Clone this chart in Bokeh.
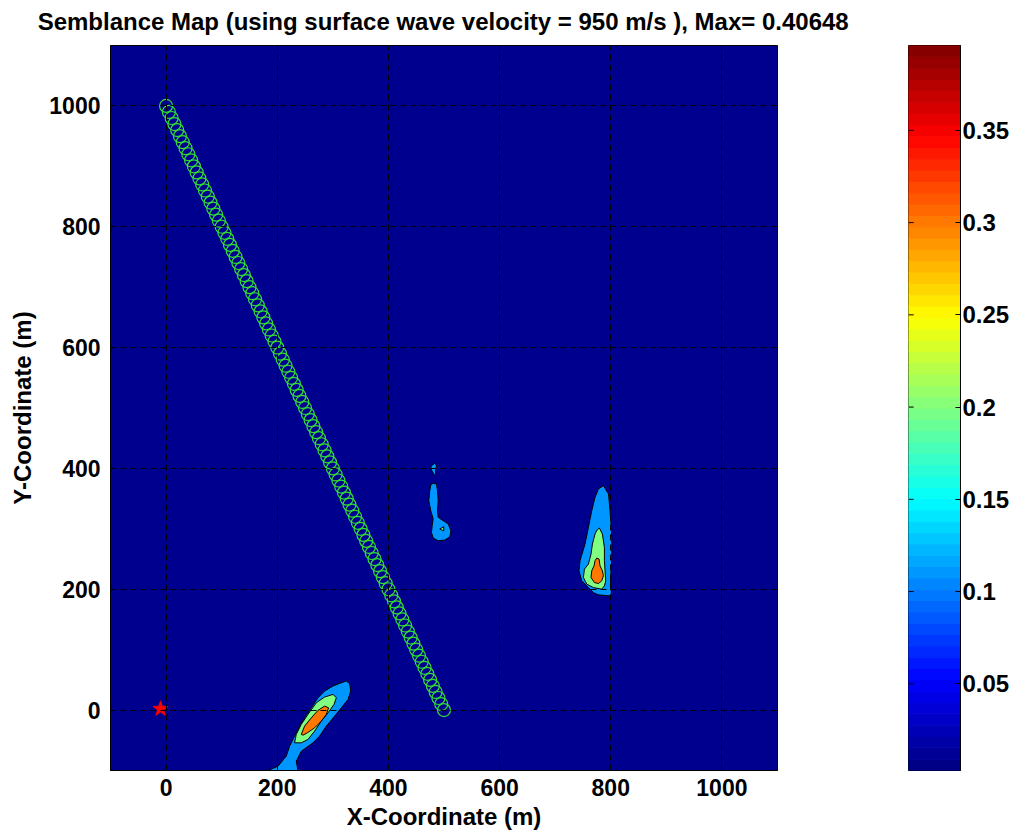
from bokeh.plotting import figure
from bokeh.models import Range1d, FixedTicker, ColumnDataSource
from bokeh.layouts import row, column
from bokeh.core.properties import value
from bokeh.embed import file_html
from bokeh.resources import INLINE

# ---------------- data ----------------
title_text = "Semblance Map (using  surface wave velocity = 950 m/s ), Max= 0.40648"
x_ticks = [0, 200, 400, 600, 800, 1000]
y_ticks = [0, 200, 400, 600, 800, 1000]
cbar_ticks = [0.05, 0.1, 0.15, 0.2, 0.25, 0.3, 0.35]
cbar_low = 0.003
cbar_high = 0.396

# receiver line (x, y in m)
rec_x = [0, 5, 10, 15, 20, 25, 30, 35, 40, 45, 50, 55, 60, 65, 70, 75, 80, 85, 90, 95,
         100, 105, 110, 115, 120, 125, 130, 135, 140, 145, 150, 155, 160, 165, 170, 175,
         180, 185, 190, 195, 200, 205, 210, 215, 220, 225, 230, 235, 240, 245, 250, 255,
         260, 265, 270, 275, 280, 285, 290, 295, 300, 305, 310, 315, 320, 325, 330, 335,
         340, 345, 350, 355, 360, 365, 370, 375, 380, 385, 390, 395, 400, 405, 410, 415,
         420, 425, 430, 435, 440, 445, 450, 455, 460, 465, 470, 475, 480, 485, 490, 495, 500]
rec_y = [1000, 990, 980, 970, 960, 950, 940, 930, 920, 910, 900, 890, 880, 870, 860, 850,
         840, 830, 820, 810, 800, 790, 780, 770, 760, 750, 740, 730, 720, 710, 700, 690,
         680, 670, 660, 650, 640, 630, 620, 610, 600, 590, 580, 570, 560, 550, 540, 530,
         520, 510, 500, 490, 480, 470, 460, 450, 440, 430, 420, 410, 400, 390, 380, 370,
         360, 350, 340, 330, 320, 310, 300, 290, 280, 270, 260, 250, 240, 230, 220, 210,
         200, 190, 180, 170, 160, 150, 140, 130, 120, 110, 100, 90, 80, 70, 60, 50, 40, 30,
         20, 10, 0]

# source position
src_x = [-10]
src_y = [2]

# contour outlines (m)
# band >= 0.1
lvl1_xs = [
    [786.8, 795.9, 798.7, 800.5, 801.8, 801.8, 800.5, 799.5, 801.8, 800.5, 795.9, 777.8,
     768.8, 759.8, 747.7, 742.9, 744.7, 753.7, 759.8, 765.8, 771.7, 777.8],
    [480.5, 486.5, 488.3, 489.5, 488.3, 489.5, 498.6, 507.6, 512.3, 510.5, 501.4, 489.5,
     480.5, 477.5, 478.7, 480.5, 476.2, 472.6, 474.4, 476.2],
    [477.5, 483.4, 486.5, 484.7, 485.2, 482.3, 478.7, 476.2],
    [183.2, 201.3, 216.2, 222.2, 231.2, 240.2, 249.2, 261.3, 273.3, 285.2, 300.4, 315.3,
     324.3, 330.3, 332.1, 327.4, 315.3, 303.2, 288.3, 276.2, 264.3, 243.2, 234.2, 237.3],
]
lvl1_ys = [
    [371.5, 357.7, 330.0, 308.5, 285.7, 252.6, 230.5, 205.6, 200.2, 190.7, 189.1, 190.7,
     194.5, 202.8, 213.9, 230.5, 247.1, 274.8, 302.3, 330.0, 352.1, 366.0],
    [375.3, 374.3, 363.2, 346.6, 330.0, 318.9, 313.4, 308.0, 296.8, 286.9, 281.4, 280.3,
     284.7, 294.0, 305.1, 316.3, 330.0, 346.6, 363.2, 373.1],
    [404.6, 408.5, 404.6, 396.4, 388.1, 389.7, 395.2, 400.8],
    [-100.0, -92.9, -76.3, -59.7, -43.1, -26.5, -12.8, 3.8, 20.4, 31.5, 39.8, 45.3,
     48.1, 43.6, 31.5, 17.7, 3.8, -10.0, -26.5, -43.1, -54.2, -68.0, -84.6, -100.0],
]
# band >= 0.2
lvl2_xs = [
    [779.6, 785.0, 788.6, 788.6, 789.7, 791.0, 788.6, 783.8, 768.8, 756.8, 750.8, 752.6,
     759.8, 764.5, 767.0, 771.7, 775.3],
    [492.4, 499.6, 499.6],
    [231.2, 234.2, 243.2, 255.3, 270.3, 285.2, 300.4, 306.3, 302.2, 291.4, 279.3, 267.2,
     255.3, 243.2],
]
lvl2_ys = [
    [301.3, 291.4, 269.2, 247.1, 230.5, 213.9, 205.6, 200.2, 202.8, 208.5, 219.4, 233.3,
     241.6, 258.2, 274.8, 291.4, 298.0],
    [299.7, 303.5, 296.8],
    [-54.2, -40.3, -23.7, -7.1, 12.1, 21.6, 26.0, 20.4, 9.5, -4.5, -18.2, -34.8, -48.6, -54.2],
]
# band >= 0.3
lvl3_xs = [
    [774.8, 779.0, 780.7, 785.0, 786.8, 783.8, 777.8, 770.6, 764.5, 765.8, 770.0, 771.7],
    [243.2, 249.2, 261.3, 273.3, 285.2, 292.4, 288.3, 279.3, 267.2, 254.1, 246.3],
]
lvl3_ys = [
    [251.6, 249.9, 238.8, 230.5, 222.2, 213.9, 209.5, 211.1, 219.4, 230.5, 238.8, 247.1],
    [-40.3, -26.5, -12.8, -0.5, 6.6, 3.8, -7.1, -18.2, -29.4, -37.6, -41.5],
]

# band fill colours (style)
band_colors = ["#0096ff", "#80ff80", "#ff7800"]
background_color = "#00008f"


# ---------------- colour map (jet, 64 colours) ----------------
def jet(t):
    def c(v):
        return max(0.0, min(1.0, v))
    r = c(1.5 - abs(4 * t - 3))
    g = c(1.5 - abs(4 * t - 2))
    b = c(1.5 - abs(4 * t - 1))
    return "#%02x%02x%02x" % (int(round(r * 255)), int(round(g * 255)), int(round(b * 255)))


N = 64
palette = [jet((i + 0.5) / N) for i in range(N)]

FONT = "Liberation Sans"
TICK_FS = "23px"
LABEL_FS = "24px"

# ---------------- title strip ----------------
tf = figure(width=1019, height=45, output_backend="svg", toolbar_location=None,
            x_range=Range1d(0, 1019), y_range=Range1d(0, 45), min_border=0)
tf.axis.visible = False
tf.grid.visible = False
tf.outline_line_color = None
tf.text(x=[446], y=[24], text=[title_text], text_align="center", text_baseline="middle",
        text_font=value(FONT), text_font_size=LABEL_FS, text_font_style="bold",
        text_color="black")

# ---------------- main map ----------------
p = figure(frame_width=667, frame_height=725, output_backend="svg", toolbar_location=None,
           x_range=Range1d(-100, 1100), y_range=Range1d(-100, 1100),
           min_border_left=110, min_border_right=23, min_border_top=0, min_border_bottom=10,
           background_fill_color=background_color, border_fill_color="white")
p.outline_line_color = "black"
p.outline_line_width = 1

for ax, ticks, lab in ((p.xaxis[0], x_ticks, "X-Coordinate (m)"), (p.yaxis[0], y_ticks, "Y-Coordinate (m)")):
    ax.ticker = FixedTicker(ticks=ticks)
    ax.axis_label = lab
    ax.axis_label_text_font = FONT
    ax.axis_label_text_font_size = LABEL_FS
    ax.axis_label_text_font_style = "bold"
    ax.axis_label_text_color = "black"
    ax.major_label_text_font = FONT
    ax.major_label_text_font_size = TICK_FS
    ax.major_label_text_font_style = "bold"
    ax.major_label_text_color = "black"
    ax.major_tick_in = 5
    ax.major_tick_out = 0
    ax.minor_tick_in = 0
    ax.minor_tick_out = 0
    ax.axis_line_color = "black"
    ax.major_tick_line_color = "black"
p.xaxis[0].major_label_standoff = 8
p.xaxis[0].axis_label_standoff = 4
p.yaxis[0].major_label_standoff = 10
p.yaxis[0].axis_label_standoff = 10

for g in (p.xgrid[0], p.ygrid[0]):
    g.grid_line_color = "black"
    g.grid_line_dash = "6 4"
    g.grid_line_width = 1
    g.grid_line_alpha = 1.0
    g.level = "overlay"
p.xgrid[0].ticker = FixedTicker(ticks=x_ticks)
p.ygrid[0].ticker = FixedTicker(ticks=y_ticks)

for xs, ys, col in ((lvl1_xs, lvl1_ys, band_colors[0]),
                    (lvl2_xs, lvl2_ys, band_colors[1]),
                    (lvl3_xs, lvl3_ys, band_colors[2])):
    p.patches(xs=xs, ys=ys, fill_color=col, line_color="black", line_width=1)

p.scatter(rec_x, rec_y, marker="circle", size=13, fill_color=None,
          line_color="#33dd33", line_width=1.2)
p.scatter(src_x, src_y, marker="star", size=16, fill_color="#ff0000", line_color="#ff0000")

# ---------------- colour bar ----------------
step = (cbar_high - cbar_low) / N
cb_src = ColumnDataSource(dict(
    bottom=[cbar_low + i * step for i in range(N)],
    top=[cbar_low + (i + 1) * step for i in range(N)],
    color=palette,
))
cb = figure(frame_width=52, frame_height=725, output_backend="svg", toolbar_location=None,
            x_range=Range1d(0, 1), y_range=Range1d(cbar_low, cbar_high),
            y_axis_location="right", min_border_left=108, min_border_right=5,
            min_border_top=0, min_border_bottom=10)
cb.quad(left=0, right=1, bottom="bottom", top="top", fill_color="color", line_color="color",
        source=cb_src)
# inward tick marks on the left edge of the bar
cb.segment(x0=0, x1=0.1, y0=cbar_ticks, y1=cbar_ticks, line_color="black", line_width=1)
cb.xaxis.visible = False
cb.xgrid.visible = False
cb.ygrid.visible = False
cb.outline_line_color = "black"
cb.outline_line_width = 1
ra = cb.yaxis[0]
ra.ticker = FixedTicker(ticks=cbar_ticks)
ra.major_label_overrides = {t: str(t) for t in cbar_ticks}
ra.major_label_text_font = FONT
ra.major_label_text_font_size = LABEL_FS
ra.major_label_text_font_style = "bold"
ra.major_label_text_color = "black"
ra.major_tick_in = 5
ra.major_tick_out = 0
ra.minor_tick_in = 0
ra.minor_tick_out = 0
ra.axis_line_color = "black"
ra.major_label_standoff = 2

layout = column(tf, row(p, cb))
open("out.html", "w").write(file_html(layout, INLINE))
